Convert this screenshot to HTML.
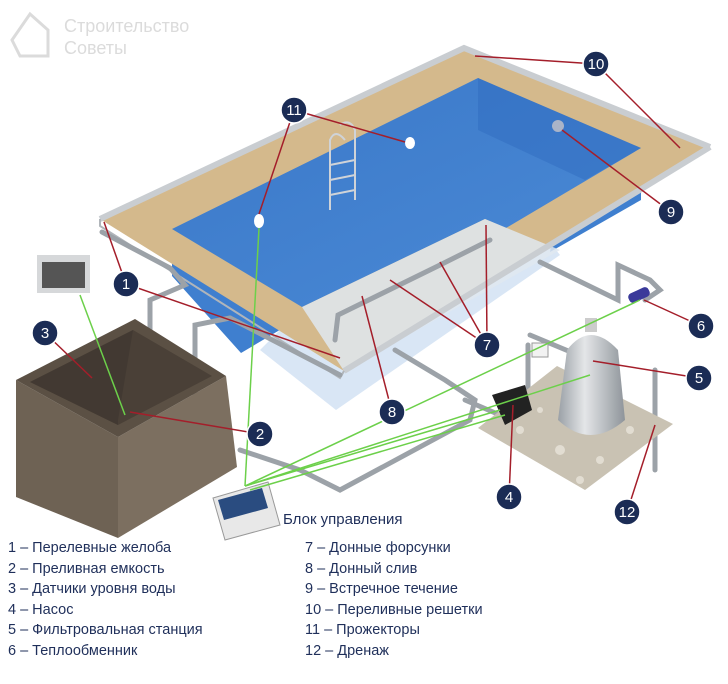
<!DOCTYPE html>
<html><head><meta charset="utf-8"><style>
html,body{margin:0;padding:0;background:#fff;}
body{width:728px;height:684px;overflow:hidden;position:relative;font-family:"Liberation Sans",sans-serif;}
.lg{position:absolute;font-size:14.5px;color:#1f2f5a;line-height:20.5px;}
</style></head><body>
<svg width="728" height="684" viewBox="0 0 728 684" style="position:absolute;left:0;top:0">
<defs>
<linearGradient id="wat" x1="0" y1="0" x2="1" y2="1"><stop offset="0" stop-color="#3a78c8"/><stop offset="1" stop-color="#4b8ad6"/></linearGradient>
<linearGradient id="ft" x1="0" y1="0" x2="1" y2="0"><stop offset="0" stop-color="#9aa0a6"/><stop offset="0.4" stop-color="#e4e6e8"/><stop offset="1" stop-color="#8e949a"/></linearGradient>
</defs>
<!-- watermark -->
<g opacity="0.35" fill="#999">
<path d="M12 40 L30 14 L48 30 L48 56 L20 56 Z" fill="none" stroke="#999" stroke-width="3"/>
<text x="64" y="32" font-size="18" font-family="Liberation Sans">Строительство</text>
<text x="64" y="54" font-size="18" font-family="Liberation Sans">Советы</text>
</g>
<!-- translucent cutaway -->
<polygon points="260,350 336,410 560,255 540,230 485,225 300,310" fill="#cfe0f2" opacity="0.8"/>
<!-- blue walls below deck -->
<polygon points="172,276 241,353 300,318 300,300 172,250" fill="#3f7fcf"/>
<polygon points="550,252 641,200 641,148 560,200" fill="#3f7fcf"/>
<!-- deck -->
<polygon points="100,219 464,48 710,147 344,371" fill="#d4b98c"/>
<!-- water -->
<polygon points="172,229 478,78 641,148 506,228 485,219 302,307" fill="url(#wat)"/>
<polygon points="478,78 641,148 585,180 478,130" fill="#2f6cc0" opacity="0.5"/>
<!-- cutaway notch area (glass region) -->
<polygon points="302,307 485,219 560,250 344,371" fill="#dfe8f0" opacity="0.85"/>
<!-- gratings -->
<polyline points="100,219 464,48 710,147" fill="none" stroke="#c9cdd1" stroke-width="6"/>
<polyline points="710,147 344,371" fill="none" stroke="#c9cdd1" stroke-width="6"/>
<polyline points="100,219 100,226 340,378 344,371" fill="none" stroke="#b0b5ba" stroke-width="2"/>
<!-- ladder -->
<g stroke="#cfd3d8" stroke-width="2" fill="none"><path d="M330 210 L330 140 Q335 128 345 140"/><path d="M355 200 L355 130 Q350 118 340 125"/><line x1="330" y1="165" x2="355" y2="160"/><line x1="330" y1="180" x2="355" y2="175"/><line x1="330" y1="195" x2="355" y2="190"/></g>
<!-- lights -->
<ellipse cx="259" cy="221" rx="5" ry="7" fill="#fff"/>
<ellipse cx="410" cy="143" rx="5" ry="6" fill="#fff"/>
<circle cx="558" cy="126" r="6" fill="#aab4c8"/>
<!-- pipes -->
<g stroke="#9ca2a8" stroke-width="5" fill="none" stroke-linecap="round">
<polyline points="102,232 170,268 185,285 150,300 150,395"/>
<polyline points="230,318 195,325 195,395"/>
<polyline points="230,318 340,375"/>
<polyline points="540,262 618,300 618,265 650,280 660,290 645,300"/>
<polyline points="395,350 445,380 475,400 470,420 340,490 300,470 240,450"/>
<polyline points="465,400 500,415"/>
<polyline points="528,345 528,420"/>
<polyline points="655,370 655,470"/>
<polyline points="530,335 590,360"/>
<polyline points="335,340 338,315 440,265 490,240"/>
</g>
<!-- heat exchanger -->
<rect x="628" y="290" width="22" height="10" rx="4" fill="#3a3a9a" transform="rotate(-25 639 295)"/>
<!-- gravel -->
<polygon points="478,428 557,366 673,424 585,490" fill="#c9c2b3"/>
<g fill="#e2ddd2"><circle cx="520" cy="430" r="4"/><circle cx="560" cy="450" r="5"/><circle cx="600" cy="460" r="4"/><circle cx="630" cy="430" r="4"/><circle cx="580" cy="480" r="4"/><circle cx="540" cy="410" r="3"/></g>
<!-- filter -->
<path d="M567 350 Q590 320 618 350 L625 420 Q590 450 558 420 Z" fill="url(#ft)"/>
<rect x="585" y="318" width="12" height="14" fill="#ccc"/>
<!-- pump -->
<path d="M492 395 L525 385 L532 410 L505 425 Z" fill="#222"/>
<rect x="532" y="343" width="16" height="14" fill="#f2f2f2" stroke="#999"/>
<!-- tank -->
<polygon points="16,380 118,437 118,538 16,497" fill="#6e6254"/>
<polygon points="118,437 226,376 237,467 118,538" fill="#7c6f60"/>
<polygon points="16,380 135,319 226,376 118,437" fill="#5b5044"/>
<polygon points="30,382 133,330 212,376 118,425" fill="#4a4037"/>
<polygon points="30,382 118,425 118,420 133,330" fill="#3e362e" opacity="0.6"/>
<!-- wall box -->
<rect x="37" y="255" width="53" height="38" fill="#d6d8da"/><rect x="42" y="262" width="43" height="26" fill="#555"/>
<!-- control box -->
<polygon points="213,498 268,482 280,525 225,540" fill="#e8e8e8" stroke="#999"/>
<polygon points="218,500 262,488 268,508 224,520" fill="#2a4c80"/>
<!-- green lines -->
<g stroke="#6cd04a" stroke-width="1.5" fill="none">
<line x1="80" y1="295" x2="125" y2="415"/>
<line x1="259" y1="228" x2="245" y2="486"/>
<line x1="245" y1="486" x2="640" y2="300"/>
<line x1="245" y1="486" x2="590" y2="375"/>
<line x1="245" y1="486" x2="500" y2="410"/>
<line x1="250" y1="490" x2="505" y2="415"/>
</g>
<!-- red leaders -->
<g stroke="#a41e2a" stroke-width="1.5">
<line x1="126" y1="284" x2="104" y2="222"/><line x1="126" y1="284" x2="340" y2="358"/>
<line x1="260" y1="434" x2="130" y2="412"/>
<line x1="45" y1="333" x2="92" y2="378"/>
<line x1="509" y1="497" x2="513" y2="405"/>
<line x1="699" y1="378" x2="593" y2="361"/>
<line x1="701" y1="326" x2="644" y2="300"/>
<line x1="487" y1="345" x2="440" y2="262"/><line x1="487" y1="345" x2="486" y2="225"/><line x1="487" y1="345" x2="390" y2="280"/>
<line x1="392" y1="412" x2="362" y2="296"/>
<line x1="671" y1="212" x2="562" y2="130"/>
<line x1="596" y1="64" x2="475" y2="56"/><line x1="596" y1="64" x2="680" y2="148"/>
<line x1="294" y1="110" x2="259" y2="214"/><line x1="294" y1="110" x2="405" y2="142"/>
<line x1="627" y1="512" x2="655" y2="425"/>
</g>
<!-- number circles -->
<g font-family="Liberation Sans" font-size="15" fill="#fff" text-anchor="middle">
<g fill="#1b2c55" stroke="#fff" stroke-width="1.5">
<circle cx="126" cy="284" r="13"/><circle cx="260" cy="434" r="13"/><circle cx="45" cy="333" r="13"/><circle cx="509" cy="497" r="13"/><circle cx="699" cy="378" r="13"/><circle cx="701" cy="326" r="13"/><circle cx="487" cy="345" r="13"/><circle cx="392" cy="412" r="13"/><circle cx="671" cy="212" r="13"/><circle cx="596" cy="64" r="13"/><circle cx="294" cy="110" r="13"/><circle cx="627" cy="512" r="13"/>
</g>
<text x="126" y="289">1</text><text x="260" y="439">2</text><text x="45" y="338">3</text><text x="509" y="502">4</text><text x="699" y="383">5</text><text x="701" y="331">6</text><text x="487" y="350">7</text><text x="392" y="417">8</text><text x="671" y="217">9</text><text x="596" y="69">10</text><text x="294" y="115">11</text><text x="627" y="517">12</text>
</g>
<text x="283" y="524" font-size="15" fill="#1f2f5a" font-family="Liberation Sans">Блок управления</text>
</svg>
<div class="lg" style="left:8px;top:538px">1 – Перелевные желоба<br>2 – Преливная емкость<br>3 – Датчики уровня воды<br>4 – Насос<br>5 – Фильтровальная станция<br>6 – Теплообменник</div>
<div class="lg" style="left:305px;top:538px">7 – Донные форсунки<br>8 – Донный слив<br>9 – Встречное течение<br>10 – Переливные решетки<br>11 – Прожекторы<br>12 – Дренаж</div>
</body></html>
